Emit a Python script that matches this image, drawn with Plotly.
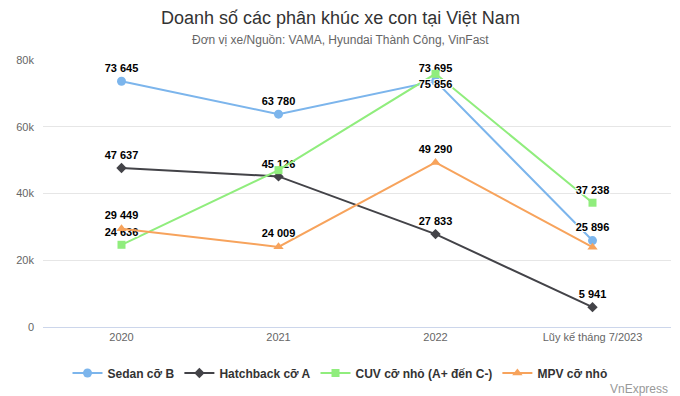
import plotly.graph_objects as go

categories = ["2020", "2021", "2022", "Lũy kế tháng 7/2023"]
sedan = [73645, 63780, 73695, 25896]
hatchback = [47637, 45126, 27833, 5941]
cuv = [24636, 47000, 75856, 37238]
mpv = [29449, 24009, 49290, 23900]

# which data labels are visible (others hidden by overlap in the original)
sedan_show = [True, True, True, True]
hatch_show = [True, True, True, True]
cuv_show = [True, False, True, True]
mpv_show = [True, True, True, False]

sedan_pos = ["top center"] * 4
hatch_pos = ["top center"] * 4
cuv_pos = ["top center", "top center", "bottom center", "top center"]
mpv_pos = ["top center"] * 4

y_ticks = [0, 20000, 40000, 60000, 80000]
y_tick_text = ["0", "20k", "40k", "60k", "80k"]

def fmt(v):
    return f"{v:,}".replace(",", " ")

def labels(vals, show):
    return [fmt(v) if s else "" for v, s in zip(vals, show)]

series = [
    ("Sedan cỡ B", sedan, sedan_show, sedan_pos, "#7cb5ec", "circle", 9),
    ("Hatchback cỡ A", hatchback, hatch_show, hatch_pos, "#434348", "diamond", 8),
    ("CUV cỡ nhỏ (A+ đến C-)", cuv, cuv_show, cuv_pos, "#90ed7d", "square", 8),
    ("MPV cỡ nhỏ", mpv, mpv_show, mpv_pos, "#f7a35c", "triangle-up", 9),
]

outline = "-1px -1px 0 #fff, 1px -1px 0 #fff, -1px 1px 0 #fff, 1px 1px 0 #fff"

# plot area in pixels: x 43..671, y 60..327
PL, PR, PT, PB = 43, 671, 60, 327
def px(x):
    return (x - PL) / (PR - PL)
def py(y):
    return (PB - y) / (PB - PT)

fig = go.Figure()
for name, vals, show, pos, color, sym, size in series:
    fig.add_trace(go.Scatter(
        x=categories, y=vals, name=name, mode="lines+markers+text",
        line=dict(color=color, width=2),
        marker=dict(color=color, symbol=sym, size=size),
        text=labels(vals, show), textposition=pos,
        textfont=dict(family="Liberation Sans, Arial, sans-serif", size=11,
                      color="#000", weight="bold", shadow=outline),
        cliponaxis=False,
        hovertemplate="%{x}: %{y}<extra>" + name + "</extra>",
    ))

fig.update_layout(
    width=680, height=396,
    margin=dict(l=PL, r=680 - PR, t=PT, b=396 - PB),
    paper_bgcolor="#fff", plot_bgcolor="#fff",
    font=dict(family="Liberation Sans, Arial, sans-serif", color="#666", size=11),
    showlegend=True,
    legend=dict(orientation="h", xref="container", yref="container",
                x=0.5, xanchor="center", y=(396 - 373) / 396, yanchor="middle",
                font=dict(size=12, color="#333", weight="bold"), itemwidth=30,
                tracegroupgap=0),
    xaxis=dict(type="category", showgrid=False, showline=True,
               linecolor="#ccd6eb", linewidth=1, ticks="",
               tickfont=dict(size=11, color="#666"), fixedrange=True,
               range=[-0.5, 3.5]),
    yaxis=dict(range=[0, 80000], tickvals=y_ticks, ticktext=y_tick_text,
               showgrid=True, gridcolor="#e6e6e6", gridwidth=1,
               zeroline=False, showline=False, ticks="",
               ticklabelstandoff=8,
               tickfont=dict(size=11, color="#666"), fixedrange=True),
    annotations=[
        dict(text="Doanh số các phân khúc xe con tại Việt Nam",
             xref="paper", yref="paper", x=px(340), y=py(18),
             xanchor="center", yanchor="middle", showarrow=False,
             font=dict(size=18, color="#333")),
        dict(text="Đơn vị xe/Nguồn: VAMA, Hyundai Thành Công, VinFast",
             xref="paper", yref="paper", x=px(340), y=py(40),
             xanchor="center", yanchor="middle", showarrow=False,
             font=dict(size=12, color="#666")),
        dict(text="VnExpress", xref="paper", yref="paper",
             x=px(670), y=py(389), xanchor="right", yanchor="middle",
             showarrow=False, font=dict(size=12, color="#999")),
    ],
)

fig.write_html("out.html", config={"displayModeBar": False},
               post_script="document.body.style.margin='0';document.body.style.padding='0';document.body.style.overflow='hidden';")
